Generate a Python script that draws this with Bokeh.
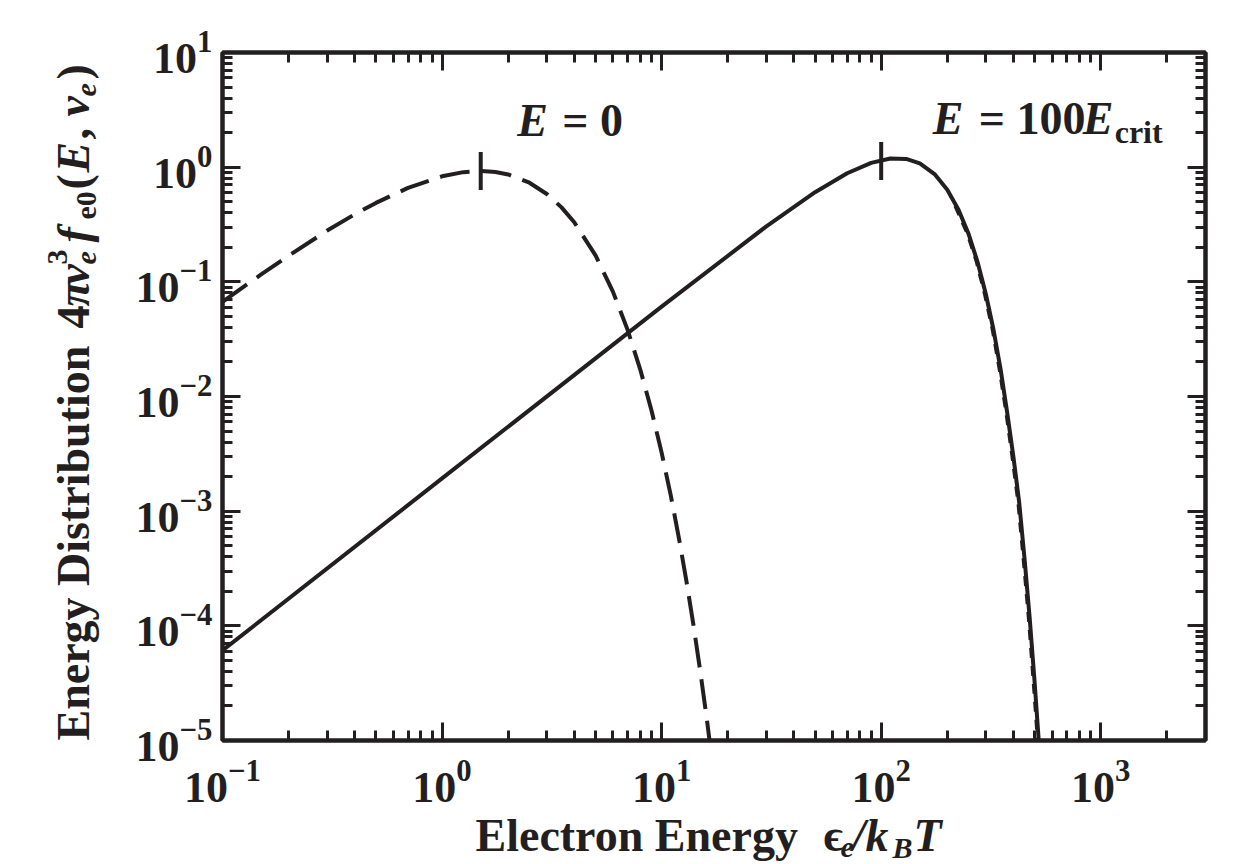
import math
from bokeh.plotting import figure
from bokeh.layouts import row, column
from bokeh.models import LogAxis, Label, FixedTicker, CustomJSTickFormatter, Range1d
from bokeh.embed import file_html
from bokeh.resources import INLINE

INK = "#231f20"
FONT = "Liberation Serif"

# ---- data ----
# E = 0 (dashed)
eps_e0 = [0.1, 0.15, 0.2, 0.3, 0.4, 0.5, 0.7, 1.0, 1.25, 1.5, 1.75, 2.0, 2.5, 3.0, 3.5,
          4.0, 5.0, 6.0, 7.0, 8.0, 9.0, 10.0, 11.0, 12.0, 13.0, 14.0, 15.0, 16.0, 17.0]
dist_e0 = [0.0670, 0.116, 0.169, 0.280, 0.388, 0.488, 0.660, 0.832, 0.905, 0.925, 0.908,
           0.864, 0.732, 0.584, 0.446, 0.331, 0.170, 0.0822, 0.0381, 0.0171, 0.00752,
           0.00324, 0.00138, 0.000577, 0.000239, 0.0000983, 0.0000401, 0.0000163, 0.00000655]

# E = 100 E_crit (solid)
eps_e100 = [0.1, 1.0, 10.0, 30.0, 50.0, 70.0, 90.0, 110.0, 130.0, 150.0, 175.0, 200.0,
            225.0, 250.0, 275.0, 300.0, 325.0, 350.0, 375.0, 400.0, 425.0, 450.0,
            475.0, 500.0, 525.0, 550.0]
dist_e100 = [6.10e-5, 1.93e-3, 0.0607, 0.305, 0.605, 0.885, 1.09, 1.19, 1.18, 1.08, 0.870,
             0.635, 0.425, 0.262, 0.148, 0.0775, 0.0380, 0.0172, 0.0072, 0.0030, 0.00120,
             0.00038, 0.000115, 0.000032, 0.0000085, 0.0000020]

# thin dashed companion along the solid fall-off
eps_fit = [200.0, 245.0, 270.0, 294.0, 319.0, 343.0, 368.0, 392.0, 417.0, 441.0, 466.0,
           490.0, 515.0, 540.0]
dist_fit = [0.635, 0.262, 0.148, 0.0775, 0.0380, 0.0172, 0.0072, 0.0030, 0.00120, 0.00038,
            0.000115, 0.000032, 0.0000085, 0.0000020]

# peak markers
mark_eps = [1.5, 100.0]
mark_dist = [0.925, 1.13]

x_ticks = [0.1, 1, 10, 100, 1000]
y_ticks = [1e-5, 1e-4, 1e-3, 1e-2, 1e-1, 1, 10]
x_minor = [m * 10.0 ** e for e in range(-1, 4) for m in range(2, 10)]
y_minor = [m * 10.0 ** e for e in range(-5, 1) for m in range(2, 10)]

YLAB_W = 110
MAIN_W, MAIN_H = 1130, 810
XLAB_H = 54
TOTAL_H = MAIN_H + XLAB_H
FRAME_L, FRAME_R = 222, 1205          # page pixels of the plot frame
BL = 0.326                            # baseline correction (fraction of font size)

p = figure(width=MAIN_W, height=MAIN_H, x_axis_type="log", y_axis_type="log",
           x_range=Range1d(0.1, 3000), y_range=Range1d(1e-5, 10),
           output_backend="svg", toolbar_location=None, title=None,
           min_border_left=FRAME_L - YLAB_W, min_border_right=35, min_border_top=52,
           min_border_bottom=70)
p.xgrid.visible = False
p.ygrid.visible = False
p.outline_line_color = INK
p.outline_line_width = 4
p.background_fill_color = "white"
p.border_fill_color = "white"


def style_axis(ax, ticks, minor):
    ax.ticker = FixedTicker(ticks=ticks, minor_ticks=minor)
    ax.axis_line_color = INK
    ax.axis_line_width = 4
    ax.major_tick_in = 18
    ax.major_tick_out = 0
    ax.major_tick_line_width = 3
    ax.major_tick_line_color = INK
    ax.minor_tick_in = 10
    ax.minor_tick_out = 0
    ax.minor_tick_line_width = 3
    ax.minor_tick_line_color = INK
    ax.major_label_text_font = FONT
    ax.major_label_text_font_style = "bold"
    ax.major_label_text_font_size = "44px"
    ax.major_label_text_color = INK


style_axis(p.xaxis[0], x_ticks, x_minor)
style_axis(p.yaxis[0], y_ticks, y_minor)
p.xaxis[0].major_label_standoff = 20
p.yaxis[0].major_label_standoff = 10

top = LogAxis()
style_axis(top, x_ticks, x_minor)
top.formatter = CustomJSTickFormatter(code="return ''")
p.add_layout(top, "above")
right = LogAxis()
style_axis(right, y_ticks, y_minor)
right.formatter = CustomJSTickFormatter(code="return ''")
p.add_layout(right, "right")

# curves
p.line(eps_e0, dist_e0, line_color=INK, line_width=4, line_dash="30 12")
p.line(eps_fit, dist_fit, line_color=INK, line_width=2, line_dash="10 8")
p.line(eps_e100, dist_e100, line_color=INK, line_width=4)
p.scatter(mark_eps, mark_dist, marker="dash", angle=math.pi / 2, size=38,
          line_color=INK, line_width=4)


def txt(fig, text, x, y, dx, dy, size, style, rotated=False):
    # dx/dy: offsets in pixels (dy up); baseline corrected for Bokeh's text box
    corr = BL * size
    if rotated:
        dx -= corr
    else:
        dy += corr
    fig.add_layout(Label(x=x, y=y, x_offset=dx, y_offset=dy, text=text,
                         text_font=FONT, text_font_size=f"{size}px",
                         text_font_style=style, text_color=INK,
                         text_align="left", text_baseline="alphabetic",
                         angle=math.pi / 2 if rotated else 0.0))


# annotations inside the plot (anchor = baseline start)
txt(p, "E", 2.2, 1.9, 0, 0, 46, "bold italic")
txt(p, "= 0", 2.2, 1.9, 45, 0, 46, "bold")
txt(p, "E", 171.6, 1.98, 0, 0, 46, "bold italic")
txt(p, "= 100", 171.6, 1.98, 46, 0, 46, "bold")
txt(p, "E", 171.6, 1.98, 150, 0, 46, "bold italic")
txt(p, "crit", 171.6, 1.98, 182, -9, 32, "bold")


def blank(w, h, x0, x1, y0, y1, **kw):
    f = figure(width=w, height=h, x_range=Range1d(x0, x1), y_range=Range1d(y0, y1),
               output_backend="svg", toolbar_location=None, title=None,
               x_axis_location=None, y_axis_location=None, **kw)
    f.grid.visible = False
    f.outline_line_color = None
    f.background_fill_color = "white"
    f.border_fill_color = "white"
    return f


# y-axis title: a strip left of the plot, coordinates in pixels (y up from page bottom)
ylab = blank(YLAB_W, TOTAL_H, 0, YLAB_W, 0, TOTAL_H, min_border=0)
bx = 88
for text, dxb, ys, size, style in [
        ("Energy Distribution", 0, 740, 46, "bold"),
        ("4", 0, 328, 46, "bold"),
        ("\u03c0", 0, 306, 46, "bold italic"),
        ("v", 0, 284, 46, "bold italic"),
        ("e", 8, 264, 30, "bold italic"),
        ("3", -21, 264, 30, "bold"),
        ("f", 0, 242, 46, "bold italic"),
        ("e0", 8, 219, 30, "bold"),
        ("(", 0, 189, 46, "bold"),
        ("E", 0, 172, 46, "bold italic"),
        (",", 0, 139, 46, "bold"),
        ("v", 0, 116, 46, "bold italic"),
        ("e", 8, 96, 30, "bold italic"),
        (")", 0, 79, 46, "bold")]:
    txt(ylab, text, bx + dxb, TOTAL_H - ys, 0, 0, size, style, rotated=True)

# x-axis title: a strip under the plot; x data = page pixels inside the frame span
xlab = blank(MAIN_W, XLAB_H, FRAME_L, FRAME_R, 0, XLAB_H,
             min_border_left=FRAME_L - YLAB_W, min_border_right=35,
             min_border_top=0, min_border_bottom=0)
base_y = 850
for text, xs, sub, size, style in [
        ("Electron Energy", 475, 0, 46, "bold"),
        ("\u03f5", 823, 0, 46, "bold"),
        ("e", 840, 7, 30, "bold italic"),
        ("/", 852, 0, 46, "bold italic"),
        ("k", 865, 0, 46, "bold italic"),
        ("B", 892, 7, 30, "bold italic"),
        ("T", 913, 0, 46, "bold italic")]:
    txt(xlab, text, xs, TOTAL_H - base_y - sub, 0, 0, size, style)

layout = row(ylab, column(p, xlab, spacing=0), spacing=0)
open("out.html", "w").write(file_html(layout, INLINE))
